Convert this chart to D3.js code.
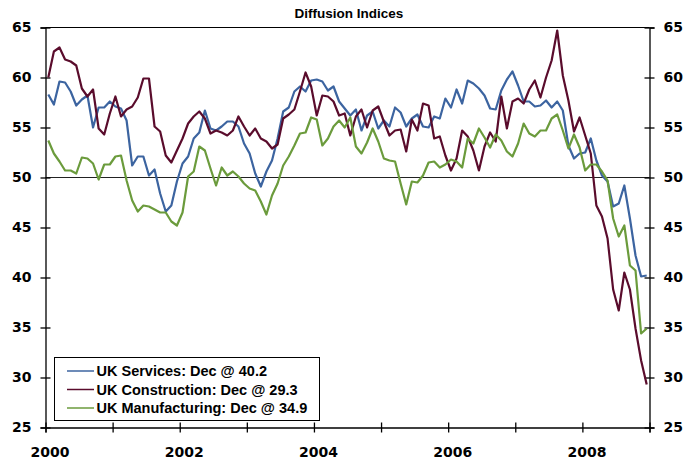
<!DOCTYPE html>
<html>
<head>
<meta charset="utf-8">
<script src="https://cdn.jsdelivr.net/npm/d3@7"></script>
<style>
  body { margin: 0; background: #fff; }
  text { font-family: "Liberation Sans", Arial, sans-serif; font-weight: bold; }
</style>
</head>
<body>
<script>
// monthly values, Jan 2000 .. Dec 2008
let services = [
  58.3, 57.3, 59.6, 59.5, 58.6, 57.2, 57.8, 58.2, 55.0, 57.0, 57.0, 57.6,
  57.1, 56.9, 55.7, 51.2, 52.1, 52.1, 50.2, 50.8, 48.4, 46.6, 47.2, 49.6,
  51.4, 52.1, 53.9, 54.5, 56.7, 54.9, 54.7, 55.1, 55.6, 55.6, 55.1, 53.4,
  52.4, 50.4, 49.1, 50.6, 51.7, 53.9, 56.6, 57.0, 58.6, 59.1, 58.6, 59.7,
  59.8, 59.6, 58.7, 59.1, 57.6, 56.9, 56.2, 56.8, 54.7, 56.2, 56.6, 54.9,
  55.7, 55.1, 57.0, 56.5, 55.1, 55.9, 56.3, 55.1, 55.0, 56.1, 55.9, 57.9,
  57.0, 58.8, 57.4, 59.7, 59.4, 58.9, 58.2, 56.9, 56.8, 58.7, 59.8, 60.6,
  59.2, 57.6, 57.6, 57.1, 57.2, 57.7, 57.0, 57.6, 56.7, 53.2, 51.9, 52.4,
  52.5, 53.9, 51.7, 50.2, 49.6, 47.1, 47.4, 49.2, 45.9, 42.2, 40.1, 40.2
]
let construction = [
  60.0, 62.6, 63.0, 61.8, 61.6, 61.2, 58.9, 58.1, 58.8, 54.9, 54.3, 56.4,
  58.1, 56.1, 56.8, 57.1, 58.0, 59.9, 59.9, 55.1, 54.6, 52.2, 51.5, 52.7,
  53.9, 55.4, 56.1, 56.6, 55.9, 54.4, 54.7, 54.5, 54.2, 54.7, 56.1, 55.1,
  54.2, 54.9, 53.9, 53.6, 52.9, 53.3, 55.9, 56.3, 56.8, 58.6, 60.5, 59.1,
  56.2, 58.2, 58.1, 57.6, 56.2, 56.4, 54.2, 56.1, 56.8, 55.0, 56.7, 57.1,
  55.6, 54.2, 54.7, 54.8, 52.6, 55.8, 54.7, 57.4, 57.2, 53.9, 54.1, 52.2,
  50.7, 51.9, 54.7, 54.1, 52.7, 50.7, 53.1, 54.5, 53.6, 58.1, 54.9, 57.6,
  57.9, 57.4, 58.8, 59.7, 58.0, 60.0, 61.7, 64.7, 60.2, 57.7, 54.6, 56.0,
  54.2, 52.4, 47.2, 46.1, 43.9, 38.8, 36.7, 40.5, 38.8, 34.9, 31.7, 29.3
]
let manufacturing = [
  53.7, 52.4, 51.6, 50.7, 50.7, 50.4, 52.0, 51.9, 51.4, 49.8, 51.3, 51.3,
  52.1, 52.2, 49.7, 47.7, 46.6, 47.2, 47.1, 46.8, 46.5, 46.5, 45.6, 45.2,
  46.5, 50.1, 50.6, 53.1, 52.7, 50.9, 49.2, 51.0, 50.2, 50.6, 50.1, 49.4,
  48.9, 48.7, 47.6, 46.3, 48.2, 49.4, 51.2, 52.1, 53.2, 54.4, 54.5, 56.0,
  55.8, 53.2, 53.9, 55.1, 55.7, 55.0, 56.0, 53.1, 52.4, 53.5, 54.9, 53.6,
  51.9, 51.7, 51.6, 49.4, 47.3, 49.6, 49.5, 50.2, 51.5, 51.6, 51.0, 51.3,
  51.8, 51.6, 51.0, 53.9, 53.4, 54.9, 54.0, 53.0, 54.3, 53.7, 52.6, 52.1,
  53.4, 55.4, 54.4, 54.1, 54.7, 54.7, 55.9, 56.3, 54.7, 52.9, 54.3, 53.0,
  50.7, 51.3, 51.3, 50.6, 49.7, 45.9, 44.1, 45.2, 41.2, 40.7, 34.4, 34.9
]
let seriesNames = ['UK Services: Dec @ 40.2', 'UK Construction: Dec @ 29.3', 'UK Manufacturing: Dec @ 34.9']
let seriesColors = ['#3c64a0', '#5a0c2c', '#6b9b3c']
let yearLabels = [2000, 2002, 2004, 2006, 2008]
let yTicks = [25, 30, 35, 40, 45, 50, 55, 60, 65]

let
  width = 696,
  height = 463;

let margin = {
  top: 27.5,
  bottom: 35.5,
  left: 45.5,
  right: 46.5
}

let svg = d3.select('body')
            .append('svg')
            .attr('width', width)
            .attr('height', height)

let yScale = d3.scaleLinear()
              .domain([25, 65])
              .range([height - margin.bottom, margin.top])

// years as a continuous axis, each month sits in the middle of its slot
let xScale = d3.scaleLinear()
              .domain([2000, 2009])
              .range([margin.left, width - margin.right])

let monthX = i => xScale(2000 + (i + 0.5) / 12)

// title
svg.append('text')
   .attr('x', 349)
   .attr('y', 18)
   .attr('text-anchor', 'middle')
   .style('font-size', '13.5px')
   .text('Diffusion Indices')

// top frame line
svg.append('line')
   .attr('x1', margin.left).attr('x2', width - margin.right)
   .attr('y1', margin.top).attr('y2', margin.top)
   .attr('stroke', '#000')

// 50 reference line
svg.append('line')
   .attr('x1', margin.left).attr('x2', width - margin.right)
   .attr('y1', yScale(50)).attr('y2', yScale(50))
   .attr('stroke', '#222')

function styleAxis(g, horizontal) {
  g.select('.domain').attr('stroke', '#000').attr('stroke-width', 1.3)
  g.selectAll('.tick line').attr('stroke', '#000').attr('stroke-width', 1.3)
  if (horizontal) g.selectAll('.tick line').attr('y1', -5).attr('y2', 5)
  else g.selectAll('.tick line').attr('x1', -5).attr('x2', 5)
  g.selectAll('.tick text')
   .style('font-family', '"DejaVu Sans", sans-serif')
   .style('font-weight', 'bold')
   .style('font-size', '14px')
   .attr('fill', '#000')
}

let yAxisL = svg.append('g')
            .attr('transform', `translate(${margin.left}, 0)`)
            .call(d3.axisLeft(yScale).tickValues(yTicks).tickSizeOuter(0).tickSize(5).tickPadding(9))
styleAxis(yAxisL, false)

let yAxisR = svg.append('g')
            .attr('transform', `translate(${width - margin.right}, 0)`)
            .call(d3.axisRight(yScale).tickValues(yTicks).tickSizeOuter(0).tickSize(5).tickPadding(9))
styleAxis(yAxisR, false)

let xAxis = svg.append('g')
            .attr('transform', `translate(0, ${height - margin.bottom})`)
            .call(d3.axisBottom(xScale)
                    .tickValues(d3.range(2000, 2010))
                    .tickFormat(d => yearLabels.includes(d) ? d : '')
                    .tickSizeOuter(0).tickSize(5).tickPadding(15))
styleAxis(xAxis, true)
xAxis.selectAll('.tick text').attr('dx', 4)

// series lines
let line = d3.line()
             .x((d, i) => monthX(i))
             .y(d => yScale(d))

let allSeries = [services, construction, manufacturing]

svg.selectAll('.series')
   .data(allSeries)
   .enter()
   .append('path')
   .attr('class', 'series')
   .attr('d', d => line(d))
   .attr('fill', 'none')
   .attr('stroke', (d, i) => seriesColors[i])
   .attr('stroke-width', 2.2)
   .attr('stroke-linejoin', 'round')

// legend
let legend = svg.append('g')
legend.append('rect')
      .attr('x', 54.5).attr('y', 357.5)
      .attr('width', 265).attr('height', 63)
      .attr('fill', '#fff')
      .attr('stroke', '#000')

let rowY = [371, 389.5, 408]
seriesNames.forEach((name, i) => {
  legend.append('line')
        .attr('x1', 67).attr('x2', 94)
        .attr('y1', rowY[i]).attr('y2', rowY[i])
        .attr('stroke', seriesColors[i])
        .attr('stroke-width', 1.5)
  legend.append('text')
        .attr('x', 96.5)
        .attr('y', rowY[i] + 5)
        .style('font-size', '14.5px')
        .text(name)
})
</script>
</body>
</html>
